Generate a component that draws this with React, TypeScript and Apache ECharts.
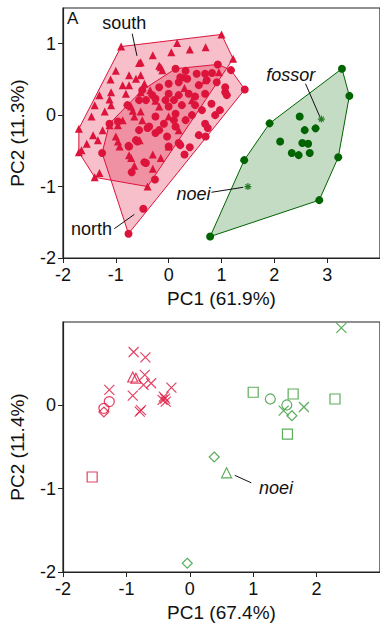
import React, { useEffect, useRef } from "react";
import * as echarts from "echarts";

type P = [number, number];

const RED = "#dc143c";
const DKGREEN = "#006400";
const MIDGREEN = "#339933";
const FONT = "'Liberation Sans', Arial, Helvetica, sans-serif";

// ---------- Panel A data ----------
const southTriangles: P[] = [
  [-0.9, 0.96], [0.16, 1.01], [1.0, 1.13], [1.22, 0.79], [-1.7, -0.19], [-1.7, -0.52],
  [-1.4, -0.87], [-0.4, -1.0], [-1.31, 0.28],
  [-0.56, 0.73], [-0.18, 0.69], [-0.53, 0.74], [-0.62, 0.51], [-0.12, 0.63], [-0.75, 0.56],
  [-0.53, 0.56], [-0.15, 0.67], [-0.87, 0.42], [-0.75, 0.42], [-0.46, 0.44], [-0.81, 0.3],
  [-0.53, 0.32], [-1.09, 0.32], [-1.12, 0.22], [-1.09, 0.14], [-1.4, 0.14], [-1.21, 0.05],
  [-1.46, -0.02], [-0.71, 0.12], [-0.68, 0.06], [-0.53, 0.05], [-0.5, -0.07], [-0.96, -0.14],
  [-1.12, -0.14], [-1.25, -0.21], [-1.43, -0.28], [-1.34, -0.35], [-1.65, -0.49], [-1.0, -0.3],
  [-0.96, -0.37], [-0.93, -0.44], [-0.75, -0.56], [-0.71, -0.6], [-0.65, -0.71], [-1.31, -0.81],
  [-0.87, -0.07], [-0.65, -0.02], [0.0, -0.02], [0.19, -0.21], [0.0, -0.44], [0.44, 0.21],
  [-0.18, 0.12], [0.29, 0.53], [0.69, 0.49], [-0.3, 0.84], [0.05, 0.88], [0.4, 0.92],
  [0.7, 0.95], [0.95, 0.6], [-1.1, 0.5], [-1.0, 0.62], [-0.35, 0.35], [-0.25, 0.2],
  [0.3, 0.38], [-0.3, -0.55], [-0.55, -0.35], [-0.3, -0.75], [-0.15, -0.6], [-1.55, -0.4],
];

const northCircles: P[] = [
  [0.13, 0.65], [0.93, 0.71], [1.18, 0.63], [1.44, 0.36], [-0.76, -1.66], [-0.48, -1.31],
  [-1.26, -0.53], [-1.12, -0.12], [-0.5, 0.35],
  [0.32, 0.62], [0.53, 0.58], [0.69, 0.58], [0.82, 0.59], [0.91, 0.46], [1.07, 0.32],
  [1.1, 0.28], [0.72, 0.49], [0.35, 0.51], [0.22, 0.53], [0.0, 0.44], [-0.18, 0.39],
  [0.0, 0.3], [0.19, 0.28], [0.5, 0.26], [0.25, 0.14], [0.5, 0.14], [0.81, 0.16],
  [0.97, 0.07], [0.88, 0.0], [0.69, -0.12], [0.74, -0.18], [0.7, -0.3], [0.57, -0.28],
  [0.32, -0.07], [0.1, -0.07], [-0.25, -0.02], [-0.37, -0.16], [-0.18, -0.21], [-0.03, -0.3],
  [0.19, -0.39], [-0.25, -0.25], [-0.56, -0.21], [-0.62, -0.35], [-0.75, -0.44], [-0.59, -0.37],
  [-0.96, -0.09], [-0.78, 0.14], [-0.56, 0.21], [-0.43, 0.21], [-0.31, 0.28], [0.0, 0.12],
  [0.13, 0.02], [-0.43, -0.67], [-0.26, -0.9], [-0.25, 0.23], [-0.06, 0.21], [0.1, 0.21],
  [0.38, 0.3], [0.63, 0.07], [0.44, 0.0], [0.13, -0.16], [-0.09, -0.12], [0.69, 0.3],
  [1.07, 0.39], [0.57, 0.42], [0.19, 0.46], [-0.76, -0.43], [-0.46, -0.66], [0.0, -0.44],
  [0.22, -0.42], [-0.4, -0.18], [-0.7, -0.8], [0.4, -0.45], [0.3, -0.55],
];

const greenCircles: P[] = [
  [3.28, 0.65], [3.42, 0.27], [1.91, -0.115], [2.48, -0.02], [2.575, -0.21], [2.78, -0.185],
  [2.11, -0.37], [2.53, -0.39], [2.64, -0.4], [2.33, -0.53], [2.46, -0.56], [2.67, -0.53],
  [1.43, -0.63], [3.21, -0.59], [2.85, -1.19], [0.785, -1.7],
];

const asteriskPoints: P[] = [[2.89, -0.055], [1.5, -1.0]];

const panelALabels = [
  { text: "south", pos: [-0.84, 1.29], from: [-0.69, 1.14], to: [-0.6, 0.83], italic: false },
  { text: "north", pos: [-1.46, -1.59], from: [-1.03, -1.59], to: [-0.65, -1.39], italic: false },
  { text: "fossor", pos: [2.31, 0.56], from: [2.59, 0.44], to: [2.86, -0.02], italic: true },
  { text: "noei", pos: [0.47, -1.1], from: [0.81, -1.08], to: [1.41, -1.01], italic: true },
];

// ---------- Panel B data ----------
const redCross: P[] = [
  [-0.886, 0.64], [-0.7, 0.575], [-1.27, 0.185], [-0.9, 0.117], [-0.77, -0.057], [-0.79, -0.075],
  [-0.71, 0.365], [-0.73, 0.245], [-0.61, 0.265], [-0.29, 0.213], [-0.41, 0.105], [-0.38, 0.045],
  [-0.43, 0.065], [-0.39, 0.08],
];
const redTriangle: P[] = [[-0.9, 0.34], [-0.85, 0.325]];
const redCircle: P[] = [[-1.27, 0.045], [-1.355, -0.036]];
const redDiamond: P[] = [[-1.355, -0.08]];
const redSquare: P[] = [[-1.54, -0.86]];

const greenCross: P[] = [[2.39, 0.93], [1.48, -0.064], [1.8, -0.02]];
const greenSquare: P[] = [[1.0, 0.157], [1.63, 0.136], [2.29, 0.076], [1.54, -0.345]];
const greenCircle: P[] = [[1.27, 0.076], [1.53, 0.004]];
const greenDiamond: P[] = [[1.61, -0.125], [0.385, -0.62], [-0.04, -1.895]];
const greenTriangle: P[] = [[0.58, -0.81]];

const panelBLabels = [
  { text: "noei", pos: [1.36, -0.99], from: [0.71, -0.84], to: [0.97, -0.93], italic: true },
];

// ---------- helpers ----------
function convexHull(points: P[]): P[] {
  const pts = points.slice().sort((a, b) => (a[0] === b[0] ? a[1] - b[1] : a[0] - b[0]));
  const cross = (o: P, a: P, b: P) => (a[0] - o[0]) * (b[1] - o[1]) - (a[1] - o[1]) * (b[0] - o[0]);
  const lower: P[] = [];
  for (const p of pts) {
    while (lower.length >= 2 && cross(lower[lower.length - 2], lower[lower.length - 1], p) <= 0) lower.pop();
    lower.push(p);
  }
  const upper: P[] = [];
  for (let i = pts.length - 1; i >= 0; i--) {
    const p = pts[i];
    while (upper.length >= 2 && cross(upper[upper.length - 2], upper[upper.length - 1], p) <= 0) upper.pop();
    upper.push(p);
  }
  upper.pop();
  lower.pop();
  return lower.concat(upper);
}

const hulls = [
  { pts: convexHull(southTriangles), fill: "rgba(220,20,60,0.27)", stroke: RED },
  { pts: convexHull(northCircles), fill: "rgba(220,20,60,0.27)", stroke: RED },
  { pts: convexHull(greenCircles), fill: "rgba(0,100,0,0.23)", stroke: DKGREEN },
];

const CROSS_PATH = "path://M0,0L10,10M0,10L10,0";
const STAR_PATH = "path://M5,0L5,10M0,5L10,5M1.5,1.5L8.5,8.5M1.5,8.5L8.5,1.5";

function xAxisCfg(gridIndex: number, max: number, name: string) {
  return {
    type: "value",
    gridIndex,
    min: -2,
    max,
    interval: 1,
    name,
    nameLocation: "middle",
    nameGap: 31,
    nameTextStyle: { fontSize: 19, color: "#111", fontFamily: FONT },
    axisLine: { show: true, onZero: false, lineStyle: { color: "#222", width: 1.2 } },
    axisTick: { show: true, length: 5, lineStyle: { color: "#222" } },
    axisLabel: { fontSize: 18, color: "#111", fontFamily: FONT, margin: 8, showMaxLabel: false },
    splitLine: { show: false },
  };
}
function yAxisCfg(gridIndex: number, max: number, name: string) {
  return {
    type: "value",
    gridIndex,
    min: -2,
    max,
    interval: 1,
    name,
    nameLocation: "middle",
    nameGap: 36,
    nameTextStyle: { fontSize: 19, color: "#111", fontFamily: FONT },
    axisLine: { show: true, onZero: false, lineStyle: { color: "#222", width: 1.2 } },
    axisTick: { show: true, length: 5, lineStyle: { color: "#222" } },
    axisLabel: { fontSize: 18, color: "#111", fontFamily: FONT, margin: 7, showMaxLabel: false },
    splitLine: { show: false },
  };
}

function labelSeries(labels: typeof panelALabels, color: string, axis: number) {
  return {
    type: "custom",
    coordinateSystem: "cartesian2d",
    xAxisIndex: axis,
    yAxisIndex: axis,
    silent: true,
    clip: false,
    data: labels.map((l, i) => [l.pos[0], l.pos[1], i]),
    renderItem: (params: any, api: any) => {
      const l = labels[api.value(2)];
      const p = api.coord(l.pos);
      const a = api.coord(l.from);
      const b = api.coord(l.to);
      return {
        type: "group",
        children: [
          {
            type: "line",
            shape: { x1: a[0], y1: a[1], x2: b[0], y2: b[1] },
            style: { stroke: color, lineWidth: 1 },
          },
          {
            type: "text",
            x: p[0],
            y: p[1],
            style: {
              text: l.text,
              fill: "#111",
              fontSize: 18,
              fontFamily: FONT,
              fontStyle: l.italic ? "italic" : "normal",
              align: "center",
              verticalAlign: "middle",
            },
          },
        ],
      };
    },
  };
}

function hollow(data: P[], symbol: string, size: number, color: string) {
  return {
    type: "scatter",
    xAxisIndex: 1,
    yAxisIndex: 1,
    data,
    symbol,
    symbolSize: size,
    itemStyle: { color: "rgba(0,0,0,0)", borderColor: color, borderWidth: 1.2 },
  };
}

const option: any = {
  animation: false,
  backgroundColor: "#ffffff",
  textStyle: { fontFamily: FONT },
  graphic: [
    {
      type: "text",
      left: 67,
      top: 10,
      style: { text: "A", fontSize: 17, fontFamily: FONT, fill: "#111" },
    },
  ],
  grid: [
    { left: 63, top: 8, width: 320.4, height: 250, show: true, borderColor: "#222", borderWidth: 1.2, containLabel: false },
    { left: 63, top: 322, width: 320, height: 251, show: true, borderColor: "#222", borderWidth: 1.2, containLabel: false },
  ],
  xAxis: [xAxisCfg(0, 4, "PC1 (61.9%)"), xAxisCfg(1, 3, "PC1 (67.4%)")],
  yAxis: [yAxisCfg(0, 1.5, "PC2 (11.3%)"), yAxisCfg(1, 1, "PC2 (11.4%)")],
  series: [
    {
      type: "custom",
      coordinateSystem: "cartesian2d",
      xAxisIndex: 0,
      yAxisIndex: 0,
      silent: true,
      data: hulls.map((h, i) => [h.pts[0][0], h.pts[0][1], i]),
      renderItem: (params: any, api: any) => {
        const h = hulls[api.value(2)];
        return {
          type: "polygon",
          shape: { points: h.pts.map((p) => api.coord(p)) },
          style: { fill: h.fill, stroke: h.stroke, lineWidth: 1 },
        };
      },
    },
    {
      type: "scatter",
      xAxisIndex: 0,
      yAxisIndex: 0,
      data: southTriangles,
      symbol: "triangle",
      symbolSize: 8,
      itemStyle: { color: RED, opacity: 1 },
    },
    {
      type: "scatter",
      xAxisIndex: 0,
      yAxisIndex: 0,
      data: northCircles,
      symbol: "circle",
      symbolSize: 8,
      itemStyle: { color: RED, opacity: 1 },
    },
    {
      type: "scatter",
      xAxisIndex: 0,
      yAxisIndex: 0,
      data: greenCircles,
      symbol: "circle",
      symbolSize: 8,
      itemStyle: { color: DKGREEN, opacity: 1 },
    },
    {
      type: "scatter",
      xAxisIndex: 0,
      yAxisIndex: 0,
      data: asteriskPoints,
      symbol: STAR_PATH,
      symbolSize: 7,
      itemStyle: { color: "rgba(0,0,0,0)", borderColor: DKGREEN, borderWidth: 1.2 },
    },
    labelSeries(panelALabels, "#111", 0),
    hollow(redCross, CROSS_PATH, 10, RED),
    hollow(redTriangle, "triangle", 10, RED),
    hollow(redCircle, "circle", 10, RED),
    hollow(redDiamond, "diamond", 10, RED),
    hollow(redSquare, "rect", 10, RED),
    hollow(greenCross, CROSS_PATH, 10, MIDGREEN),
    hollow(greenSquare, "rect", 10, MIDGREEN),
    hollow(greenCircle, "circle", 10, MIDGREEN),
    hollow(greenDiamond, "diamond", 10, MIDGREEN),
    hollow(greenTriangle, "triangle", 10, MIDGREEN),
    labelSeries(panelBLabels, "#111", 1),
  ],
};

export default function App() {
  const ref = useRef<HTMLDivElement>(null);
  useEffect(() => {
    const chart = echarts.init(ref.current!, null, { renderer: "svg" });
    chart.setOption(option);
    return () => chart.dispose();
  }, []);
  return (
    <div
      ref={ref}
      style={{ position: "absolute", left: 0, top: 0, width: 380, height: 623, background: "#fff" }}
    />
  );
}
